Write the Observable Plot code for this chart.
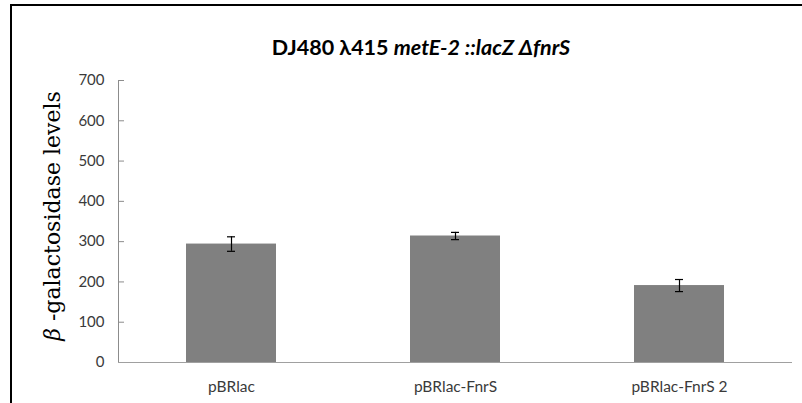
<!DOCTYPE html>
<html><head><meta charset="utf-8">
<script src="https://cdn.jsdelivr.net/npm/d3@7"></script>
<script src="https://cdn.jsdelivr.net/npm/@observablehq/plot@0.6"></script>
<style>
body{margin:0;background:#fff;overflow:hidden}
#wrap{position:relative;width:802px;height:403px;overflow:hidden;background:#fff}
#frame{position:absolute;left:10px;top:4px;width:900px;height:500px;border-left:2px solid #000;border-top:2px solid #000;box-sizing:border-box;pointer-events:none}
#title{position:absolute;left:20px;width:802px;top:36px;text-align:center;font:bold 21.5px Lato,sans-serif;line-height:22px;color:#000;white-space:nowrap}
#ylab{position:absolute;left:52px;top:216px;transform:translate(-50%,-50%) rotate(-90deg);font:22px "DejaVu Serif",serif;color:#000;white-space:nowrap}
#chart{position:absolute;left:0;top:0}
</style></head>
<body>
<div id="wrap">
  <div id="chart"></div>
  <div id="title">DJ480 λ415 <i>metE-2 ::lacZ ΔfnrS</i></div>
  <div id="ylab"><i>β</i> -galactosidase levels</div>
  <div id="frame"></div>
</div>
<script>
const categories = ["pBRlac", "pBRlac-FnrS", "pBRlac-FnrS 2"];
const values = [294, 314, 191];
const errors = [18, 9, 15];
const yTicks = [0, 100, 200, 300, 400, 500, 600, 700];

const data = categories.map((name, i) => ({name, value: values[i], err: errors[i]}));

const chart = Plot.plot({
  width: 802,
  height: 403,
  marginLeft: 118,
  marginRight: 10,
  marginTop: 80,
  marginBottom: 41,
  style: {fontFamily: "Lato, sans-serif", fontSize: "15px", color: "#3a3a3a", background: "transparent"},
  x: {domain: categories, paddingInner: 0.6, paddingOuter: 0.3, label: null},
  y: {domain: [0, 700], label: null},
  marks: [
    Plot.barY(data, {x: "name", y: "value", fill: "#808080"}),
    Plot.ruleX(data, {x: "name", y1: d => d.value - d.err, y2: d => d.value + d.err, stroke: "#000", strokeWidth: 1.2}),
    Plot.tickY(data, {x: "name", y: d => d.value - d.err, stroke: "#000", strokeWidth: 1.2, inset: 41}),
    Plot.tickY(data, {x: "name", y: d => d.value + d.err, stroke: "#000", strokeWidth: 1.2, inset: 41}),
    Plot.axisY({ticks: yTicks, tickSize: 0, tickPadding: 14, fontSize: 15, label: null}),
    Plot.axisY({ticks: yTicks, tickSize: 6, dx: 6, tickFormat: () => "", stroke: "#8c8c8c", label: null}),
    Plot.frame({anchor: "left", stroke: "#8c8c8c"}),
    Plot.ruleY([0], {stroke: "#a0a0a0"}),
    Plot.axisX({tickSize: 0, tickPadding: 18, fontSize: 15.5, label: null})
  ]
});
document.getElementById("chart").append(chart);
</script>
</body></html>
